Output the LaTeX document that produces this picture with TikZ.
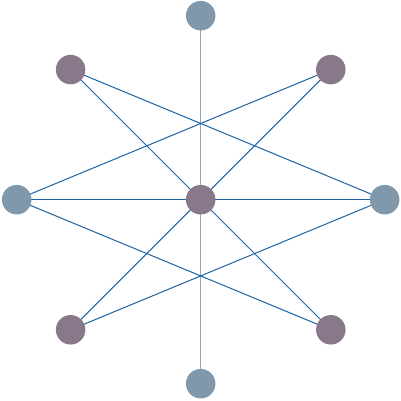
\documentclass[tikz,border=0pt]{standalone}
\usetikzlibrary{calc,backgrounds}
\definecolor{nodeblue}{HTML}{7F98AB}
\definecolor{nodepurple}{HTML}{88788A}
\definecolor{edgedark}{HTML}{1B63A5}
\definecolor{edgelight}{HTML}{88A8C4}
\begin{document}
\begin{tikzpicture}[x=1pt,y=-1pt,
  vb/.style={circle,fill=nodeblue,draw=none,minimum size=29.5pt,inner sep=0pt},
  vp/.style={circle,fill=nodepurple,draw=none,minimum size=29.5pt,inner sep=0pt},
  ed/.style={draw=edgedark,line width=1pt},
  el/.style={draw=edgelight,line width=1.3pt}]
\useasboundingbox (0,0) rectangle (401,401);
\coordinate (c0) at (200.7,199.7);
\node[vp] (C) at (c0) {};
\node[vb] (T) at ($(c0)+(0,-184)$) {};
\node[vb] (B) at ($(c0)+(0,184)$) {};
\node[vb] (L) at ($(c0)+(-184,0)$) {};
\node[vb] (R) at ($(c0)+(184,0)$) {};
\node[vp] (UL) at ($(c0)+(-130.1,-130.1)$) {};
\node[vp] (UR) at ($(c0)+(130.1,-130.1)$) {};
\node[vp] (LL) at ($(c0)+(-130.1,130.1)$) {};
\node[vp] (LR) at ($(c0)+(130.1,130.1)$) {};
\begin{scope}[on background layer]
  \draw[el] (T.center) -- (C.center);
  \draw[el] (C.center) -- (B.center);
  \draw[ed] (L.center) -- (C.center);
  \draw[ed] (C.center) -- (R.center);
  \draw[ed] (UL.center) -- (C.center);
  \draw[ed] (UR.center) -- (C.center);
  \draw[ed] (LL.center) -- (C.center);
  \draw[ed] (LR.center) -- (C.center);
  \draw[ed] (UL.center) -- (R.center);
  \draw[ed] (UR.center) -- (L.center);
  \draw[ed] (LL.center) -- (R.center);
  \draw[ed] (LR.center) -- (L.center);
\end{scope}
\end{tikzpicture}
\end{document}
